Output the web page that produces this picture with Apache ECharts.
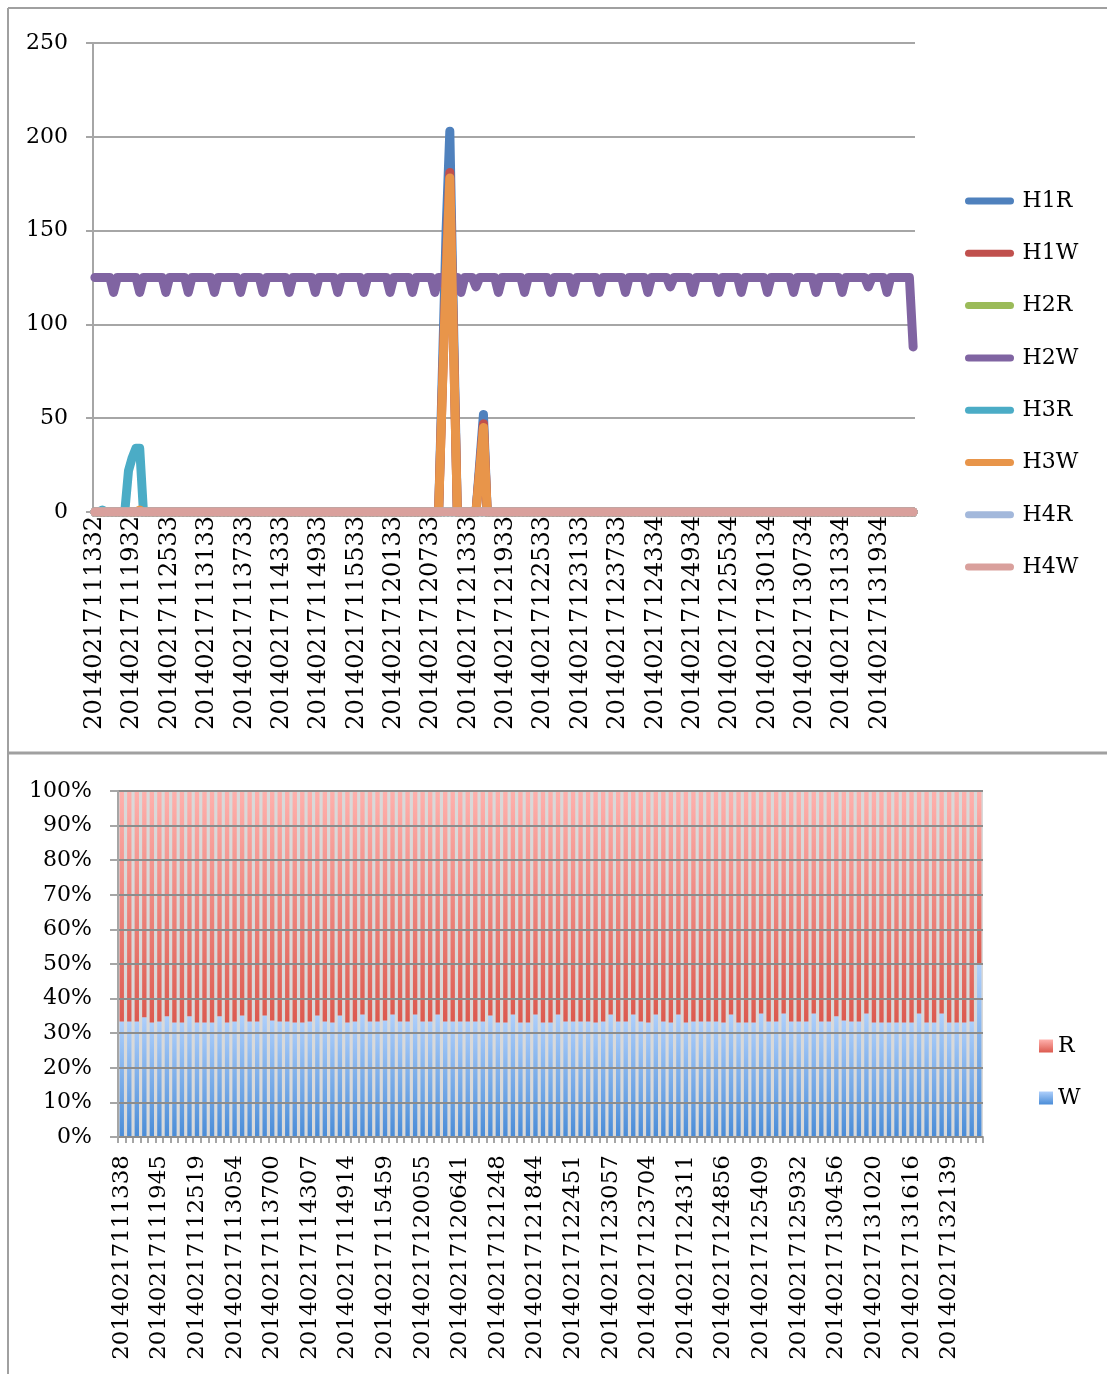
<!DOCTYPE html>
<html>
<head>
<meta charset="utf-8">
<script src="https://cdn.jsdelivr.net/npm/echarts@6/dist/echarts.min.js"></script>
<style>
  html, body { margin: 0; padding: 0; background: #ffffff; }
  #chart { width: 1107px; height: 1374px; }
</style>
</head>
<body>
<div id="chart"></div>
<script>
// ---- tick labels (one label every 10 samples on top, every 5 bars below) ----
const topTickLabels = [
  '20140217111332','20140217111932','20140217112533','20140217113133','20140217113733',
  '20140217114333','20140217114933','20140217115533','20140217120133','20140217120733',
  '20140217121333','20140217121933','20140217122533','20140217123133','20140217123733',
  '20140217124334','20140217124934','20140217125534','20140217130134','20140217130734',
  '20140217131334','20140217131934'
];
const bottomTickLabels = [
  '20140217111338','20140217111945','20140217112519','20140217113054','20140217113700',
  '20140217114307','20140217114914','20140217115459','20140217120055','20140217120641',
  '20140217121248','20140217121844','20140217122451','20140217123057','20140217123704',
  '20140217124311','20140217124856','20140217125409','20140217125932','20140217130456',
  '20140217131020','20140217131616','20140217132139'
];

// ---- top chart: per-sample values (220 samples) ----
const H1R = [
  0,0,0,0,0,0,0,0,0,0,0,0,0,0,0,0,0,0,0,0,
  0,0,0,0,0,0,0,0,0,0,0,0,0,0,0,0,0,0,0,0,
  0,0,0,0,0,0,0,0,0,0,0,0,0,0,0,0,0,0,0,0,
  0,0,0,0,0,0,0,0,0,0,0,0,0,0,0,0,0,0,0,0,
  0,0,0,0,0,0,0,0,0,0,0,0,0,75,150,203,100,0,0,0,
  0,0,0,26,52,0,0,0,0,0,0,0,0,0,0,0,0,0,0,0,
  0,0,0,0,0,0,0,0,0,0,0,0,0,0,0,0,0,0,0,0,
  0,0,0,0,0,0,0,0,0,0,0,0,0,0,0,0,0,0,0,0,
  0,0,0,0,0,0,0,0,0,0,0,0,0,0,0,0,0,0,0,0,
  0,0,0,0,0,0,0,0,0,0,0,0,0,0,0,0,0,0,0,0,
  0,0,0,0,0,0,0,0,0,0,0,0,0,0,0,0,0,0,0,0
];
const H1W = [
  0,0,0,0,0,0,0,0,0,0,0,0,0,0,0,0,0,0,0,0,
  0,0,0,0,0,0,0,0,0,0,0,0,0,0,0,0,0,0,0,0,
  0,0,0,0,0,0,0,0,0,0,0,0,0,0,0,0,0,0,0,0,
  0,0,0,0,0,0,0,0,0,0,0,0,0,0,0,0,0,0,0,0,
  0,0,0,0,0,0,0,0,0,0,0,0,0,66,127,181,90,0,0,0,
  0,0,0,23,47,0,0,0,0,0,0,0,0,0,0,0,0,0,0,0,
  0,0,0,0,0,0,0,0,0,0,0,0,0,0,0,0,0,0,0,0,
  0,0,0,0,0,0,0,0,0,0,0,0,0,0,0,0,0,0,0,0,
  0,0,0,0,0,0,0,0,0,0,0,0,0,0,0,0,0,0,0,0,
  0,0,0,0,0,0,0,0,0,0,0,0,0,0,0,0,0,0,0,0,
  0,0,0,0,0,0,0,0,0,0,0,0,0,0,0,0,0,0,0,0
];
const H2R = [
  0,0,0,0,0,0,0,0,0,0,0,0,0,0,0,0,0,0,0,0,
  0,0,0,0,0,0,0,0,0,0,0,0,0,0,0,0,0,0,0,0,
  0,0,0,0,0,0,0,0,0,0,0,0,0,0,0,0,0,0,0,0,
  0,0,0,0,0,0,0,0,0,0,0,0,0,0,0,0,0,0,0,0,
  0,0,0,0,0,0,0,0,0,0,0,0,0,0,0,0,0,0,0,0,
  0,0,0,0,0,0,0,0,0,0,0,0,0,0,0,0,0,0,0,0,
  0,0,0,0,0,0,0,0,0,0,0,0,0,0,0,0,0,0,0,0,
  0,0,0,0,0,0,0,0,0,0,0,0,0,0,0,0,0,0,0,0,
  0,0,0,0,0,0,0,0,0,0,0,0,0,0,0,0,0,0,0,0,
  0,0,0,0,0,0,0,0,0,0,0,0,0,0,0,0,0,0,0,0,
  0,0,0,0,0,0,0,0,0,0,0,0,0,0,0,0,0,0,0,0
];
const H2W = [
  125,125,125,125,125,117,125,125,125,125,125,125,117,125,125,125,125,125,125,117,
  125,125,125,125,125,117,125,125,125,125,125,125,117,125,125,125,125,125,125,117,
  125,125,125,125,125,117,125,125,125,125,125,125,117,125,125,125,125,125,125,117,
  125,125,125,125,125,117,125,125,125,125,125,125,117,125,125,125,125,125,125,117,
  125,125,125,125,125,117,125,125,125,125,125,117,125,125,125,125,125,125,117,125,
  125,125,120,125,125,125,125,125,117,125,125,125,125,125,125,117,125,125,125,125,
  125,125,117,125,125,125,125,125,117,125,125,125,125,125,125,117,125,125,125,125,
  125,125,117,125,125,125,125,125,117,125,125,125,125,125,120,125,125,125,125,125,
  117,125,125,125,125,125,125,117,125,125,125,125,125,117,125,125,125,125,125,125,
  117,125,125,125,125,125,125,117,125,125,125,125,125,117,125,125,125,125,125,125,
  117,125,125,125,125,125,125,120,125,125,125,125,117,125,125,125,125,125,125,88
];
const H3R = [
  0,0,1,0,0,0,0,0,0,22,29,34,34,0,0,0,0,0,0,0,
  0,0,0,0,0,0,0,0,0,0,0,0,0,0,0,0,0,0,0,0,
  0,0,0,0,0,0,0,0,0,0,0,0,0,0,0,0,0,0,0,0,
  0,0,0,0,0,0,0,0,0,0,0,0,0,0,0,0,0,0,0,0,
  0,0,0,0,0,0,0,0,0,0,0,0,0,0,0,0,0,0,0,0,
  0,0,0,0,0,0,0,0,0,0,0,0,0,0,0,0,0,0,0,0,
  0,0,0,0,0,0,0,0,0,0,0,0,0,0,0,0,0,0,0,0,
  0,0,0,0,0,0,0,0,0,0,0,0,0,0,0,0,0,0,0,0,
  0,0,0,0,0,0,0,0,0,0,0,0,0,0,0,0,0,0,0,0,
  0,0,0,0,0,0,0,0,0,0,0,0,0,0,0,0,0,0,0,0,
  0,0,0,0,0,0,0,0,0,0,0,0,0,0,0,0,0,0,0,0
];
const H3W = [
  0,0,0,0,0,0,0,0,0,0,0,0,1,0,0,0,0,0,0,0,
  0,0,0,0,0,0,0,0,0,0,0,0,0,0,0,0,0,0,0,0,
  0,0,0,0,0,0,0,0,0,0,0,0,0,0,0,0,0,0,0,0,
  0,0,0,0,0,0,0,0,0,0,0,0,0,0,0,0,0,0,0,0,
  0,0,0,0,0,0,0,0,0,0,0,0,0,65,125,178,88,0,0,0,
  0,0,0,22,45,0,0,0,0,0,0,0,0,0,0,0,0,0,0,0,
  0,0,0,0,0,0,0,0,0,0,0,0,0,0,0,0,0,0,0,0,
  0,0,0,0,0,0,0,0,0,0,0,0,0,0,0,0,0,0,0,0,
  0,0,0,0,0,0,0,0,0,0,0,0,0,0,0,0,0,0,0,0,
  0,0,0,0,0,0,0,0,0,0,0,0,0,0,0,0,0,0,0,0,
  0,0,0,0,0,0,0,0,0,0,0,0,0,0,0,0,0,0,0,0
];
const H4R = [
  0,0,0,0,0,0,0,0,0,0,0,0,0,0,0,0,0,0,0,0,
  0,0,0,0,0,0,0,0,0,0,0,0,0,0,0,0,0,0,0,0,
  0,0,0,0,0,0,0,0,0,0,0,0,0,0,0,0,0,0,0,0,
  0,0,0,0,0,0,0,0,0,0,0,0,0,0,0,0,0,0,0,0,
  0,0,0,0,0,0,0,0,0,0,0,0,0,0,0,0,0,0,0,0,
  0,0,0,0,0,0,0,0,0,0,0,0,0,0,0,0,0,0,0,0,
  0,0,0,0,0,0,0,0,0,0,0,0,0,0,0,0,0,0,0,0,
  0,0,0,0,0,0,0,0,0,0,0,0,0,0,0,0,0,0,0,0,
  0,0,0,0,0,0,0,0,0,0,0,0,0,0,0,0,0,0,0,0,
  0,0,0,0,0,0,0,0,0,0,0,0,0,0,0,0,0,0,0,0,
  0,0,0,0,0,0,0,0,0,0,0,0,0,0,0,0,0,0,0,0
];
const H4W = [
  0,0,0,0,0,0,0,0,0,0,0,0,0,0,0,0,0,0,0,0,
  0,0,0,0,0,0,0,0,0,0,0,0,0,0,0,0,0,0,0,0,
  0,0,0,0,0,0,0,0,0,0,0,0,0,0,0,0,0,0,0,0,
  0,0,0,0,0,0,0,0,0,0,0,0,0,0,0,0,0,0,0,0,
  0,0,0,0,0,0,0,0,0,0,0,0,0,0,0,0,0,0,0,0,
  0,0,0,0,0,0,0,0,0,0,0,0,0,0,0,0,0,0,0,0,
  0,0,0,0,0,0,0,0,0,0,0,0,0,0,0,0,0,0,0,0,
  0,0,0,0,0,0,0,0,0,0,0,0,0,0,0,0,0,0,0,0,
  0,0,0,0,0,0,0,0,0,0,0,0,0,0,0,0,0,0,0,0,
  0,0,0,0,0,0,0,0,0,0,0,0,0,0,0,0,0,0,0,0,
  0,0,0,0,0,0,0,0,0,0,0,0,0,0,0,0,0,0,0,0
];

// ---- bottom chart: read / write share per interval, in percent (115 bars) ----
const shareW = [
  33.4,33.4,33.4,34.6,33.1,33.4,34.9,33.1,33.1,34.9,
  33.1,33.1,33.1,34.9,33.1,33.4,35.1,33.4,33.4,35.1,
  33.7,33.4,33.4,33.1,33.1,33.4,35.1,33.4,33.1,35.1,
  33.1,33.4,35.4,33.4,33.4,33.7,35.4,33.4,33.4,35.4,
  33.4,33.4,35.4,33.4,33.4,33.4,33.4,33.4,33.4,35.1,
  33.1,33.1,35.4,33.1,33.1,35.4,33.1,33.1,35.4,33.4,
  33.4,33.4,33.4,33.1,33.4,35.4,33.4,33.4,35.4,33.4,
  33.1,35.4,33.4,33.1,35.4,33.1,33.4,33.4,33.4,33.4,
  33.1,35.4,33.1,33.1,33.1,35.7,33.4,33.4,35.7,33.4,
  33.4,33.4,35.7,33.4,33.4,34.9,33.7,33.4,33.4,35.7,
  33.1,33.1,33.1,33.1,33.1,33.1,35.7,33.1,33.1,35.7,
  33.1,33.1,33.1,33.4,50.0
];
const shareR = [
  66.6,66.6,66.6,65.4,66.9,66.6,65.1,66.9,66.9,65.1,
  66.9,66.9,66.9,65.1,66.9,66.6,64.9,66.6,66.6,64.9,
  66.3,66.6,66.6,66.9,66.9,66.6,64.9,66.6,66.9,64.9,
  66.9,66.6,64.6,66.6,66.6,66.3,64.6,66.6,66.6,64.6,
  66.6,66.6,64.6,66.6,66.6,66.6,66.6,66.6,66.6,64.9,
  66.9,66.9,64.6,66.9,66.9,64.6,66.9,66.9,64.6,66.6,
  66.6,66.6,66.6,66.9,66.6,64.6,66.6,66.6,64.6,66.6,
  66.9,64.6,66.6,66.9,64.6,66.9,66.6,66.6,66.6,66.6,
  66.9,64.6,66.9,66.9,66.9,64.3,66.6,66.6,64.3,66.6,
  66.6,66.6,64.3,66.6,66.6,65.1,66.3,66.6,66.6,64.3,
  66.9,66.9,66.9,66.9,66.9,66.9,64.3,66.9,66.9,64.3,
  66.9,66.9,66.9,66.6,50.0
];

// ---- category names: labelled stamps plus the unlabelled samples between them ----
function shiftStamp(stamp, sec) {
  const t = Date.UTC(+stamp.slice(0, 4), +stamp.slice(4, 6) - 1, +stamp.slice(6, 8),
    +stamp.slice(8, 10), +stamp.slice(10, 12), +stamp.slice(12, 14)) + sec * 1000;
  const d = new Date(t);
  const p = n => String(n).padStart(2, '0');
  return d.getUTCFullYear() + p(d.getUTCMonth() + 1) + p(d.getUTCDate()) +
    p(d.getUTCHours()) + p(d.getUTCMinutes()) + p(d.getUTCSeconds());
}
const topCategories = [];
topTickLabels.forEach(l => { for (let k = 0; k < 10; k++) topCategories.push(k === 0 ? l : shiftStamp(l, 36 * k)); });
const bottomCategories = [];
bottomTickLabels.forEach(l => { for (let k = 0; k < 5; k++) bottomCategories.push(k === 0 ? l : shiftStamp(l, 72 * k)); });

const lineNames = ['H1R', 'H1W', 'H2R', 'H2W', 'H3R', 'H3W', 'H4R', 'H4W'];
const lineData = [H1R, H1W, H2R, H2W, H3R, H3W, H4R, H4W];
const lineColors = ['#4F81BD', '#C0504D', '#9BBB59', '#8064A2', '#4BACC6', '#E8954A', '#A3B8DB', '#D9A09C'];

const FONT = 'DejaVu Serif';
const AXIS_GRAY = '#A6A6A6';
const capsule = 'path://M4,0 L52,0 A4,4 0 0 1 52,8 L4,8 A4,4 0 0 1 4,0 Z';

const chart = echarts.init(document.getElementById('chart'), null, { renderer: 'canvas' });

const lineSeries = lineNames.map((name, i) => ({
  type: 'line',
  name: name,
  xAxisIndex: 0,
  yAxisIndex: 0,
  data: lineData[i],
  color: lineColors[i],
  symbol: 'none',
  showSymbol: false,
  clip: true,
  lineStyle: { width: 9, color: lineColors[i], cap: 'round', join: 'round' },
  emphasis: { disabled: true }
}));

const barW = {
  type: 'bar', name: 'W', stack: 'share', xAxisIndex: 1, yAxisIndex: 1,
  data: shareW, barCategoryGap: '42%',
  itemStyle: {
    color: { type: 'linear', x: 0, y: 0, x2: 0, y2: 1,
      colorStops: [{ offset: 0, color: '#AECFFB' }, { offset: 1, color: '#4A8CD7' }] }
  },
  emphasis: { disabled: true }
};
const barR = {
  type: 'bar', name: 'R', stack: 'share', xAxisIndex: 1, yAxisIndex: 1,
  data: shareR, barCategoryGap: '42%',
  itemStyle: {
    color: { type: 'linear', x: 0, y: 0, x2: 0, y2: 1,
      colorStops: [{ offset: 0, color: '#FFB1AD' }, { offset: 1, color: '#DC5A4F' }] }
  },
  emphasis: { disabled: true }
};

chart.setOption({
  animation: false,
  backgroundColor: '#ffffff',
  textStyle: { fontFamily: FONT, color: '#000' },
  grid: [
    { left: 93, top: 43, width: 822, height: 469 },
    { left: 118, top: 791, width: 865, height: 346, show: true, backgroundColor: '#D9D9D9', borderWidth: 0 }
  ],
  legend: [
    {
      data: lineNames, orient: 'vertical', left: 960, top: 185,
      itemWidth: 56, itemHeight: 7, itemGap: 30.3, icon: capsule,
      textStyle: { fontFamily: FONT, fontSize: 22, lineHeight: 22, color: '#000' },
      selectedMode: false
    },
    {
      data: ['R', 'W'], orient: 'vertical', left: 1034, top: 1030,
      itemWidth: 14, itemHeight: 13, itemGap: 30, icon: 'rect',
      textStyle: { fontFamily: FONT, fontSize: 22, lineHeight: 22, color: '#000' },
      selectedMode: false
    }
  ],
  xAxis: [
    {
      type: 'category', gridIndex: 0, data: topCategories, boundaryGap: true,
      axisLine: { lineStyle: { color: AXIS_GRAY, width: 2 } },
      axisTick: { show: true, interval: 0, length: 5, lineStyle: { color: AXIS_GRAY, width: 1.5 } },
      axisLabel: { interval: 9, rotate: 90, margin: 4, padding: [8, 0, 0, 0],
        fontFamily: FONT, fontSize: 24, color: '#000' },
      splitLine: { show: false }
    },
    {
      type: 'category', gridIndex: 1, data: bottomCategories, boundaryGap: true,
      axisLine: { lineStyle: { color: AXIS_GRAY, width: 2 } },
      axisTick: { show: true, interval: 0, length: 6, lineStyle: { color: AXIS_GRAY, width: 2 } },
      axisLabel: { interval: 4, rotate: 90, margin: 18, padding: [6, 0, 0, 0],
        fontFamily: FONT, fontSize: 23, color: '#000' },
      splitLine: { show: false }
    }
  ],
  yAxis: [
    {
      type: 'value', gridIndex: 0, min: 0, max: 250, interval: 50,
      axisLine: { show: true, lineStyle: { color: AXIS_GRAY, width: 2 } },
      axisTick: { show: true, length: 7, lineStyle: { color: AXIS_GRAY, width: 2 } },
      axisLabel: { margin: 25, fontFamily: FONT, fontSize: 22, color: '#000' },
      splitLine: { show: true, lineStyle: { color: AXIS_GRAY, width: 2 } }
    },
    {
      type: 'value', gridIndex: 1, min: 0, max: 100, interval: 10, z: 3,
      axisLine: { show: true, lineStyle: { color: AXIS_GRAY, width: 2 } },
      axisTick: { show: true, length: 8, lineStyle: { color: AXIS_GRAY, width: 2 } },
      axisLabel: { margin: 26, fontFamily: FONT, fontSize: 22, color: '#000', formatter: '{value}%' },
      splitLine: { show: true, lineStyle: { color: '#8C8C8C', width: 2 } }
    }
  ],
  graphic: [
    { type: 'line', shape: { x1: 8, y1: 8, x2: 1107, y2: 8 }, style: { stroke: '#A0A0A0', lineWidth: 2 } },
    { type: 'line', shape: { x1: 8, y1: 8, x2: 8, y2: 1374 }, style: { stroke: '#A0A0A0', lineWidth: 2 } },
    { type: 'line', shape: { x1: 8, y1: 753, x2: 1107, y2: 753 }, style: { stroke: '#A0A0A0', lineWidth: 3 } }
  ],
  series: lineSeries.concat([barW, barR])
});
</script>
</body>
</html>
